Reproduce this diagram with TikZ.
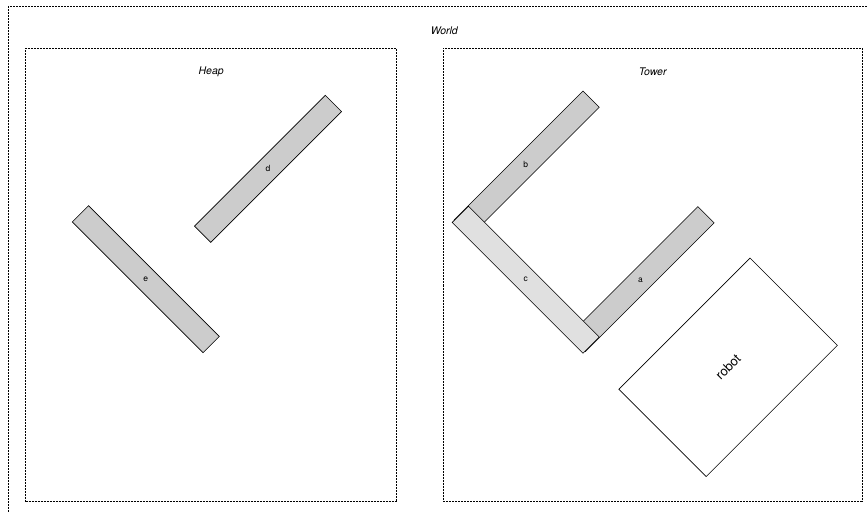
\documentclass[tikz,border=0pt]{standalone}
\usepackage{fontspec}
\setmainfont{TeX Gyre Heros}
\definecolor{blockgray}{HTML}{CCCCCC}
\definecolor{lightblock}{HTML}{E0E0E0}
\begin{document}
\begin{tikzpicture}[x=1pt,y=1pt,
  frame/.style={draw, dash pattern=on 2pt off 1pt, line width=0.6pt, inner sep=0pt, outer sep=0pt},
  title/.style={font=\fontsize{10.5}{12}\selectfont\itshape, inner sep=0pt},
  block/.style={draw, line width=0.6pt, fill=blockgray, minimum width=185pt, minimum height=23pt, inner sep=0pt},
  shortblock/.style={block, minimum width=182pt},
  blocklabel/.style={inner sep=0pt, font=\fontsize{8.5}{10}\selectfont},
  robotbox/.style={draw, line width=0.6pt, fill=white, minimum width=185.5pt, minimum height=123.5pt, inner sep=0pt, font=\fontsize{13}{15}\selectfont}]
\useasboundingbox (0,0) rectangle (867,512);
\begin{scope}
  \clip (0,0) rectangle (867,512);
  \node[frame, minimum width=872pt, minimum height=515.3pt] (world) at (444.3,247.65) {};
\end{scope}
\node[title] (worldlabel) at (444.3,480.8) {World};
\node[frame, minimum width=371pt, minimum height=453.4pt] (heap) at (211.2,237) {};
\node[frame, minimum width=418.7pt, minimum height=453.4pt] (tower) at (652.65,237) {};
\node[title] (heaplabel) at (211.2,440) {Heap};
\node[title] (towerlabel) at (652.65,440) {Tower};
% Heap blocks
\node[block, rotate=45] (d) at (268,343.15) {};
\node[blocklabel] (dlabel) at (d.center) {d};
\node[block, rotate=-45] (e) at (145.8,232.8) {};
\node[blocklabel] (elabel) at (e.center) {e};
% Tower blocks (lower ends hidden under c)
\node[shortblock, rotate=45] (b) at (526.8,348.5) {};
\node[blocklabel] (blabel) at (525.75,347.45) {b};
\node[shortblock, rotate=45] (a) at (641.65,232.95) {};
\node[blocklabel] (alabel) at (640.6,231.9) {a};
\node[block, rotate=-45, fill=lightblock] (c) at (525.7,232.3) {};
\node[blocklabel] (clabel) at (c.center) {c};
% Robot
\node[robotbox, rotate=45] (robot) at (728.1,144.7) {robot};
\end{tikzpicture}
\end{document}
